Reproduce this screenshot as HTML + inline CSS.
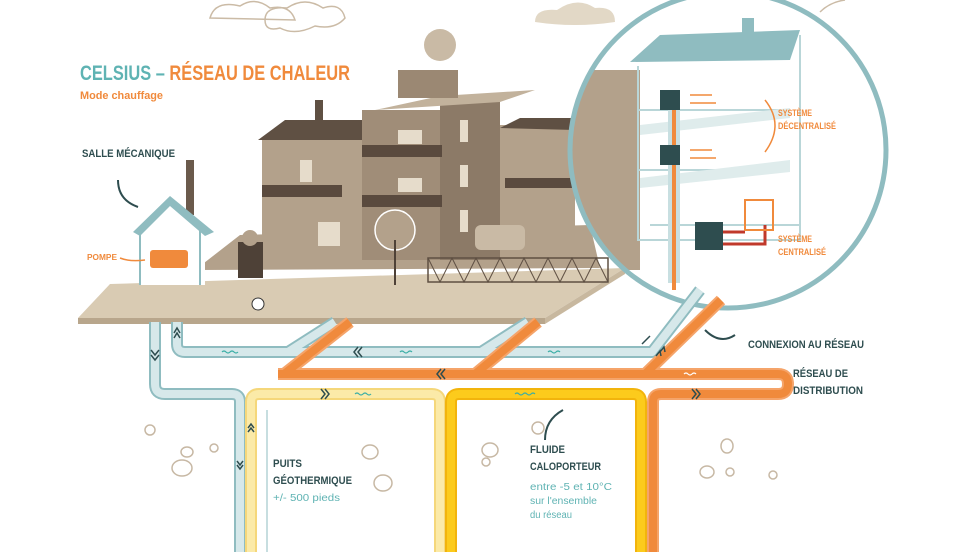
<!DOCTYPE html>
<html><head><meta charset="utf-8"><style>
html,body{margin:0;padding:0;background:#fff}
svg{display:block}
.t{font-family:"Liberation Sans",sans-serif;font-weight:bold}
.n{font-family:"Liberation Sans",sans-serif}
</style></head><body>
<svg width="980" height="552" viewBox="0 0 980 552" xmlns="http://www.w3.org/2000/svg">
<!-- clouds -->
<path d="M210,18 q5,-18 30,-12 q15,-10 30,2 q20,-4 25,12 z" fill="none" stroke="#cbbba6" stroke-width="1.5"/>
<path d="M265,20 q0,-14 22,-12 q18,-12 36,0 q18,-6 22,10 q-10,12 -30,8 q-20,10 -35,2 q-15,4 -15,-8z" fill="none" stroke="#cbbba6" stroke-width="1.5"/>
<path d="M535,22 q0,-14 22,-12 q20,-14 38,-2 q20,-2 20,14 q-40,6 -80,0z" fill="#e2d8c6"/>
<path d="M820,12 q10,-10 25,-12" fill="none" stroke="#cbbba6" stroke-width="1.5"/>
<!-- slab -->
<polygon points="78,318 110,284 625,268 545,318" fill="#d9cbb3"/>
<polygon points="78,318 545,318 545,324 78,324" fill="#b8a68c"/>
<polygon points="545,318 625,268 625,274 545,324" fill="#c8b89f"/>
<!-- buildings -->
<polygon points="195,270 240,235 590,225 600,268" fill="#b3a18b"/>
<rect x="262" y="138" width="100" height="112" fill="#b3a18b"/>
<polygon points="258,140 285,120 375,120 362,140" fill="#5f5043"/>
<rect x="315" y="100" width="8" height="20" fill="#5f5043"/>
<rect x="362" y="110" width="80" height="150" fill="#a08d78"/>
<rect x="440" y="100" width="60" height="160" fill="#8c7a67"/>
<polygon points="375,110 440,96 535,90 500,102" fill="#c2b29c"/>
<rect x="398" y="70" width="60" height="28" fill="#9b8873"/>
<circle cx="440" cy="45" r="16" fill="#c9baa5"/>
<rect x="500" y="125" width="75" height="125" fill="#b3a18b"/>
<polygon points="500,128 520,118 580,118 575,130" fill="#5f5043"/>
<rect x="362" y="145" width="80" height="12" fill="#5a4a3e"/>
<rect x="362" y="195" width="80" height="12" fill="#5a4a3e"/>
<rect x="262" y="185" width="80" height="12" fill="#5a4a3e"/>
<rect x="505" y="178" width="70" height="10" fill="#5a4a3e"/>
<g fill="#e6dccb"><rect x="398" y="130" width="24" height="14"/><rect x="398" y="178" width="24" height="14"/><rect x="460" y="120" width="8" height="22"/><rect x="460" y="165" width="8" height="22"/><rect x="460" y="210" width="8" height="22"/><rect x="300" y="160" width="12" height="22"/><rect x="318" y="222" width="22" height="24"/></g>
<rect x="428" y="258" width="180" height="24" fill="none" stroke="#5f5043" stroke-width="1.5"/>
<path d="M428,258 l12,24 l12,-24 l12,24 l12,-24 l12,24 l12,-24 l12,24 l12,-24 l12,24 l12,-24 l12,24 l12,-24 l12,24 l12,-24 l12,24" fill="none" stroke="#5f5043"/>
<rect x="475" y="225" width="50" height="25" rx="6" fill="#c9baa5"/>
<circle cx="395" cy="230" r="20" fill="#b3a18b" stroke="#fff" stroke-width="1.5"/>
<line x1="395" y1="240" x2="395" y2="285" stroke="#4e4137" stroke-width="2"/>
<rect x="238" y="242" width="25" height="36" fill="#4e4137"/>
<circle cx="250" cy="238" r="8" fill="#b3a18b"/>
<circle cx="258" cy="304" r="6" fill="#fff" stroke="#333"/>
<rect x="186" y="160" width="8" height="55" fill="#6b5a4c"/>
<!-- mech room -->
<polygon points="138,228 170,200 205,228 205,285 140,285" fill="#fff"/>
<path d="M140,285 V228 L170,202 L200,228 V285" fill="none" stroke="#8fbcc0" stroke-width="2"/>
<polygon points="133,232 170,196 214,232 205,236 170,206 140,236" fill="#8fbcc0"/>
<rect x="150" y="250" width="38" height="18" rx="3" fill="#f08a3c"/>
<path d="M120,258 q10,4 25,2" fill="none" stroke="#f08a3c" stroke-width="1.5"/>
<path d="M118,180 q0,20 20,27" fill="none" stroke="#2e4d4f" stroke-width="2"/>
<!-- circle inset -->
<circle cx="728" cy="150" r="160" fill="#fff"/>
<clipPath id="c"><circle cx="728" cy="150" r="158"/></clipPath>
<g clip-path="url(#c)">
<rect x="570" y="70" width="70" height="200" fill="#b3a18b"/>
<polygon points="630,62 660,35 800,30 790,60" fill="#8fbcc0"/>
<rect x="742" y="18" width="12" height="20" fill="#8fbcc0"/>
<path d="M638,66 V240 H800 V35 M638,110 H790 M638,170 H790 M650,225 H800" fill="none" stroke="#b9d6d8" stroke-width="2"/>
<polygon points="640,125 790,108 790,118 640,135" fill="#dfecec"/>
<polygon points="640,178 790,160 790,172 640,188" fill="#dfecec"/>
<rect x="668" y="93" width="12" height="190" fill="#c8dfe1"/>
<line x1="674" y1="110" x2="674" y2="290" stroke="#f08a3c" stroke-width="4"/>
<rect x="660" y="90" width="20" height="20" fill="#2e4d4f"/>
<rect x="660" y="145" width="20" height="20" fill="#2e4d4f"/>
<rect x="695" y="222" width="28" height="28" fill="#2e4d4f"/>
<path d="M723,232 H745 M723,244 H765 V225" fill="none" stroke="#c0392b" stroke-width="3"/>
<rect x="745" y="200" width="28" height="30" fill="none" stroke="#f08a3c" stroke-width="2"/>
<path d="M690,95 h22 M690,103 h26 M690,150 h22 M690,158 h26" stroke="#f08a3c" stroke-width="1.5"/>
</g>
<circle cx="728" cy="150" r="158" fill="none" stroke="#8fbcc0" stroke-width="5"/>
<path d="M765,100 q20,25 0,52" fill="none" stroke="#f08a3c" stroke-width="1.5"/>
<!-- pipes -->
<g fill="none" stroke-linejoin="round" stroke-linecap="butt">
<path d="M155,322 V384 q0,10 10,10 H232 q8,0 8,8 V552" stroke="#8fbcc0" stroke-width="12"/>
<path d="M155,322 V384 q0,10 10,10 H232 q8,0 8,8 V552" stroke="#d6e8ea" stroke-width="8"/>
<path d="M177,322 V344 q0,8 8,8 H652 L700,290 M288,352 L335,322 M481,352 L528,322" stroke="#8fbcc0" stroke-width="12"/>
<path d="M177,322 V344 q0,8 8,8 H652 L700,290 M288,352 L335,322 M481,352 L528,322" stroke="#d6e8ea" stroke-width="8"/>
<path d="M251,552 V402 q0,-8 8,-8 H432 q8,0 8,8 V552" stroke="#f5d77a" stroke-width="12"/>
<path d="M251,552 V402 q0,-8 8,-8 H432 q8,0 8,8 V552" stroke="#fbeaa8" stroke-width="8"/>
<path d="M451,552 V402 q0,-8 8,-8 H633 q8,0 8,8 V552" stroke="#f2b40c" stroke-width="12"/>
<path d="M451,552 V402 q0,-8 8,-8 H633 q8,0 8,8 V552" stroke="#fccb1c" stroke-width="8"/>
<path d="M278,374 H778 q10,0 10,10 q0,10 -10,10 H661 q-8,0 -8,8 V552 M284,374 L350,322 M475,374 L538,322 M645,374 L721,300" stroke="#f5a46a" stroke-width="12"/>
<path d="M278,374 H778 q10,0 10,10 q0,10 -10,10 H661 q-8,0 -8,8 V552 M284,374 L350,322 M475,374 L538,322 M645,374 L721,300" stroke="#f08a3c" stroke-width="8"/>
</g>
<g fill="none" stroke="#2e4d4f" stroke-width="1.5">
<path d="M151,350 l4,5 l4,-5 M151,355 l4,5 l4,-5"/>
<path d="M174,338 l3,-5 l3,5 M174,333 l3,-5 l3,5"/>
<path d="M358,347 l-4,5 l4,5 M362,347 l-4,5 l4,5"/>
<path d="M441,369 l-4,5 l4,5 M445,369 l-4,5 l4,5"/>
<path d="M321,389 l4,5 l-4,5 M325,389 l4,5 l-4,5"/>
<path d="M692,389 l4,5 l-4,5 M696,389 l4,5 l-4,5"/>
<path d="M237,461 l3,4 l3,-4 M237,465 l3,4 l3,-4"/>
<path d="M248,428 l3,-4 l3,4 M248,432 l3,-4 l3,4"/>
<path d="M646,340 l4,-4 M642,344 l4,-4"/>
<path d="M656,356 l4,-5 l1,5 M660,352 l4,-5 l1,5"/>
</g>
<g fill="none" stroke="#3aaea5" stroke-width="1.2">
<path d="M222,352 q2,-2 4,0 t4,0 t4,0 t4,0"/><path d="M400,352 q2,-2 4,0 t4,0 t4,0"/><path d="M548,352 q2,-2 4,0 t4,0 t4,0"/>
<path d="M355,394 q2,-2 4,0 t4,0 t4,0 t4,0"/><path d="M515,394 q2,-2 4,0 t4,0 t4,0 t4,0 t4,0"/>
</g>
<path d="M684,374 q2,-2 4,0 t4,0 t4,0" fill="none" stroke="#fff" stroke-width="1.2"/>
<path d="M267,410 V552" stroke="#8fbcc0" stroke-width="1"/>
<path d="M545,440 q0,-20 18,-30" fill="none" stroke="#2e4d4f" stroke-width="2"/>
<path d="M735,335 q-15,10 -30,-5" fill="none" stroke="#2e4d4f" stroke-width="2"/>
<!-- rocks -->
<g fill="none" stroke="#c7b8a4" stroke-width="1.5">
<circle cx="150" cy="430" r="5"/><ellipse cx="182" cy="468" rx="10" ry="8"/><ellipse cx="187" cy="452" rx="6" ry="5"/><circle cx="214" cy="448" r="4"/>
<ellipse cx="383" cy="483" rx="9" ry="8"/><ellipse cx="370" cy="452" rx="8" ry="7"/><ellipse cx="490" cy="450" rx="8" ry="7"/><circle cx="486" cy="462" r="4"/><circle cx="538" cy="428" r="6"/>
<ellipse cx="727" cy="446" rx="6" ry="7"/><ellipse cx="707" cy="472" rx="7" ry="6"/><circle cx="730" cy="472" r="4"/><circle cx="773" cy="475" r="4"/>
</g>
<!-- texts -->
<text class="t" x="80" y="80" font-size="21" fill="#5fb3b3" textLength="270" lengthAdjust="spacingAndGlyphs">CELSIUS –<tspan fill="#f08a3c"> RÉSEAU DE CHALEUR</tspan></text>
<text class="t" x="80" y="99" font-size="11" fill="#f08a3c" textLength="83" lengthAdjust="spacingAndGlyphs">Mode chauffage</text>
<text class="t" x="82" y="157" font-size="11" fill="#2e4d4f" textLength="93" lengthAdjust="spacingAndGlyphs">SALLE MÉCANIQUE</text>
<text class="t" x="87" y="260" font-size="8" fill="#f08a3c" textLength="30" lengthAdjust="spacingAndGlyphs">POMPE</text>
<text class="t" x="778" y="116" font-size="9" fill="#f08a3c" textLength="34" lengthAdjust="spacingAndGlyphs">SYSTÈME</text>
<text class="t" x="778" y="129" font-size="9" fill="#f08a3c" textLength="58" lengthAdjust="spacingAndGlyphs">DÉCENTRALISÉ</text>
<text class="t" x="778" y="242" font-size="9" fill="#f08a3c" textLength="34" lengthAdjust="spacingAndGlyphs">SYSTÈME</text>
<text class="t" x="778" y="255" font-size="9" fill="#f08a3c" textLength="48" lengthAdjust="spacingAndGlyphs">CENTRALISÉ</text>
<text class="t" x="748" y="348" font-size="11" fill="#2e4d4f" textLength="116" lengthAdjust="spacingAndGlyphs">CONNEXION AU RÉSEAU</text>
<text class="t" x="793" y="377" font-size="11" fill="#2e4d4f" textLength="55" lengthAdjust="spacingAndGlyphs">RÉSEAU DE</text>
<text class="t" x="793" y="394" font-size="11" fill="#2e4d4f" textLength="70" lengthAdjust="spacingAndGlyphs">DISTRIBUTION</text>
<text class="t" x="273" y="467" font-size="11" fill="#2e4d4f" textLength="29" lengthAdjust="spacingAndGlyphs">PUITS</text>
<text class="t" x="273" y="484" font-size="11" fill="#2e4d4f" textLength="79" lengthAdjust="spacingAndGlyphs">GÉOTHERMIQUE</text>
<text class="n" x="273" y="501" font-size="10" fill="#5fb3b3" textLength="67" lengthAdjust="spacingAndGlyphs">+/- 500 pieds</text>
<text class="t" x="530" y="453" font-size="11" fill="#2e4d4f" textLength="35" lengthAdjust="spacingAndGlyphs">FLUIDE</text>
<text class="t" x="530" y="470" font-size="11" fill="#2e4d4f" textLength="71" lengthAdjust="spacingAndGlyphs">CALOPORTEUR</text>
<text class="n" x="530" y="490" font-size="10" fill="#5fb3b3" textLength="82" lengthAdjust="spacingAndGlyphs">entre -5 et 10°C</text>
<text class="n" x="530" y="504" font-size="10" fill="#5fb3b3" textLength="67" lengthAdjust="spacingAndGlyphs">sur l'ensemble</text>
<text class="n" x="530" y="518" font-size="10" fill="#5fb3b3" textLength="42" lengthAdjust="spacingAndGlyphs">du réseau</text>
</svg>
</body></html>
